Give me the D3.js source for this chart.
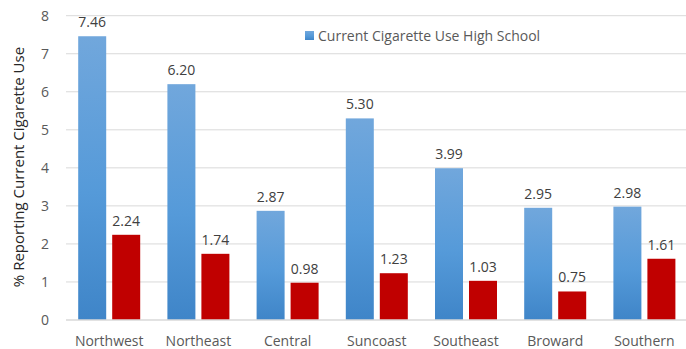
<!DOCTYPE html>
<html><head><meta charset="utf-8">
<script src="https://cdn.jsdelivr.net/npm/d3@7"></script>
<style>body{margin:0;background:#fff}svg{display:block}text{font-family:"Open Sans",sans-serif}</style>
</head><body>
<svg id="c" width="686" height="349"></svg>
<script>
const categories = ["Northwest","Northeast","Central","Suncoast","Southeast","Broward","Southern"];
const highSchool = [7.46,6.20,2.87,5.30,3.99,2.95,2.98];
const middleSchool = [2.24,1.74,0.98,1.23,1.03,0.75,1.61];
const yTicks = [0,1,2,3,4,5,6,7,8];
const legendLabel = "Current Cigarette Use High School";
const yTitle = "% Reporting Current Cigarette Use";

(function(){
const svg = d3.select("#c");
const pL = 64.6, pR = 689, pT = 15.7, pB = 320;
const x = d3.scaleBand().domain(categories).range([pL, pR]);
const y = d3.scaleLinear().domain([0, 8]).range([pB, pT]);

const defs = svg.append("defs");
const g = defs.append("linearGradient").attr("id","blueGrad").attr("x1",0).attr("y1",0).attr("x2",0).attr("y2",1);
g.append("stop").attr("offset","0%").attr("stop-color","#71a7dc");
g.append("stop").attr("offset","55%").attr("stop-color","#559ad9");
g.append("stop").attr("offset","100%").attr("stop-color","#3f85c8");

svg.append("g").selectAll("line").data(yTicks.filter(d=>d>0)).join("line")
  .attr("x1", 66).attr("x2", 686)
  .attr("y1", d=>y(d)).attr("y2", d=>y(d))
  .attr("stroke","#d9d9d9").attr("stroke-width",1);

svg.append("g").selectAll("text").data(yTicks).join("text")
  .attr("x", 49).attr("y", d=>y(d)).attr("dy","0.35em")
  .attr("text-anchor","end").attr("font-size",14).attr("fill","#595959")
  .text(d=>d);

const barW = 28, gap = 6;
const groupW = barW*2 + gap;
const cx = d => x(d) + x.bandwidth()/2;

svg.append("g").selectAll("rect").data(categories).join("rect")
  .attr("x", (d)=>cx(d) - groupW/2)
  .attr("y", (d,i)=>y(highSchool[i]))
  .attr("width", barW)
  .attr("height", (d,i)=>y(0)-y(highSchool[i]))
  .attr("fill","url(#blueGrad)");
svg.append("g").selectAll("rect").data(categories).join("rect")
  .attr("x", (d)=>cx(d) - groupW/2 + barW + gap)
  .attr("y", (d,i)=>y(middleSchool[i]))
  .attr("width", barW)
  .attr("height", (d,i)=>y(0)-y(middleSchool[i]))
  .attr("fill","#c00000");

svg.append("line").attr("x1",66).attr("x2",686).attr("y1",y(0)).attr("y2",y(0))
  .attr("stroke","#d9d9d9").attr("stroke-width",1.5);

svg.append("g").selectAll("text").data(categories).join("text")
  .attr("x", d=>cx(d) - groupW/2 + barW/2)
  .attr("y", (d,i)=>y(highSchool[i]) - 9)
  .attr("text-anchor","middle").attr("font-size",14).attr("fill","#404040")
  .text((d,i)=>highSchool[i].toFixed(2));
svg.append("g").selectAll("text").data(categories).join("text")
  .attr("x", d=>cx(d) + groupW/2 - barW/2)
  .attr("y", (d,i)=>y(middleSchool[i]) - 9)
  .attr("text-anchor","middle").attr("font-size",14).attr("fill","#404040")
  .text((d,i)=>middleSchool[i].toFixed(2));

svg.append("g").selectAll("text").data(categories).join("text")
  .attr("x", d=>cx(d)).attr("y", 341)
  .attr("dy","0.35em")
  .attr("text-anchor","middle").attr("font-size",14).attr("fill","#595959")
  .text(d=>d);

svg.append("text").attr("transform","translate(18.5,167) rotate(-90)")
  .attr("text-anchor","middle").attr("dy","0.35em").attr("font-size",15).attr("fill","#262626")
  .text(yTitle);

svg.append("rect").attr("x",305).attr("y",31).attr("width",9).attr("height",9).attr("fill","url(#blueGrad)");
svg.append("text").attr("x",318).attr("y",36).attr("dy","0.35em").attr("font-size",14).attr("fill","#595959")
  .text(legendLabel);
})();
</script>
</body></html>
